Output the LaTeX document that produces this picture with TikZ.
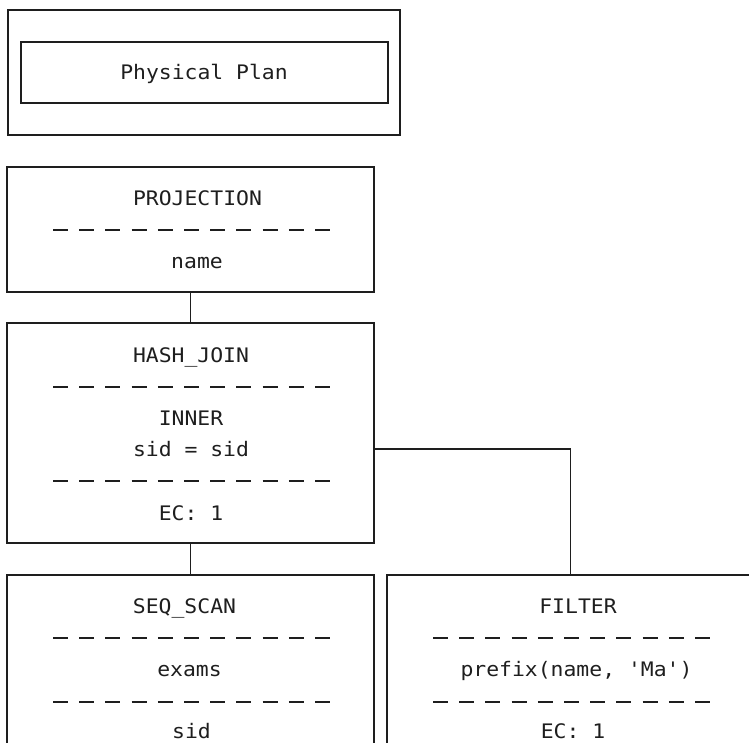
\documentclass[tikz,border=0pt]{standalone}
\usepackage{fontspec}
\setmonofont[FakeStretch=1.07]{DejaVu Sans Mono}
\usepackage{tikz}
\usetikzlibrary{positioning, calc}
\definecolor{mInk}{HTML}{1E1E1E}

\begin{document}
\begin{tikzpicture}[x=1pt, y=-1pt,
    opbox/.style={draw=mInk, line width=1.4pt, minimum width=367pt, inner sep=0pt},
    lbl/.style={font=\ttfamily\fontsize{20}{24}\selectfont, text=mInk, inner sep=0pt, text height=14.5pt, text depth=0pt},
    sepline/.style={draw=mInk, line width=1.8pt, dash pattern=on 15pt off 11.2pt},
    link/.style={draw=mInk, line width=1.4pt}]
  \useasboundingbox (0,0) rectangle (749,742);
  \clip (0,0) rectangle (749,742);

  % title
  \node[opbox, minimum width=392pt, minimum height=125pt] (planframe) at (204,72.5) {};
  \node[opbox, minimum height=61pt] (plantitle) at (204.5,72.5) {};
  \node[lbl] (plantext) at (204,72) {Physical Plan};

  % operators
  \node[opbox, minimum height=125pt] (proj) at (190.5,229.5) {};
  \node[opbox, minimum height=220pt] (hashjoin) at (190.5,433) {};
  \node[opbox, minimum height=220pt] (seqscan) at (190.5,685) {};
  \node[opbox, minimum height=220pt] (filter) at (570.5,685) {};

  \node[lbl] (projname) at (197.5,198) {PROJECTION};
  \node[lbl] (projcols) at (197,261.5) {name};

  \node[lbl] (hjname) at (191,355) {HASH\_JOIN};
  \node[lbl] (hjtype) at (191,418) {INNER};
  \node[lbl] (hjcond) at (191,449) {sid = sid};
  \node[lbl] (hjcard) at (191,513) {EC: 1};

  \node[lbl] (scanname) at (184.5,606) {SEQ\_SCAN};
  \node[lbl] (scantable) at (189.5,669.5) {exams};
  \node[lbl] (scancols) at (191.5,731) {sid};

  \node[lbl] (filtername) at (578,606) {FILTER};
  \node[lbl] (filterexpr) at (576.5,669.5) {prefix(name, 'Ma')};
  \node[lbl] (filtercard) at (573,731) {EC: 1};

  % separators
  \foreach \y in {230} \draw[sepline] (53,\y) -- (330,\y);
  \foreach \y in {387,481} \draw[sepline] (53,\y) -- (330,\y);
  \foreach \y in {638,702} {
    \draw[sepline] (53,\y) -- (330,\y);
    \draw[sepline] (433,\y) -- (710,\y);
  }

  % connectors
  \draw[link] (proj.south) -- (hashjoin.north);
  \draw[link] (hashjoin.south) -- (seqscan.north);
  \draw[link] (hjcond -| hashjoin.east) -| (filter.north);
\end{tikzpicture}
\end{document}
